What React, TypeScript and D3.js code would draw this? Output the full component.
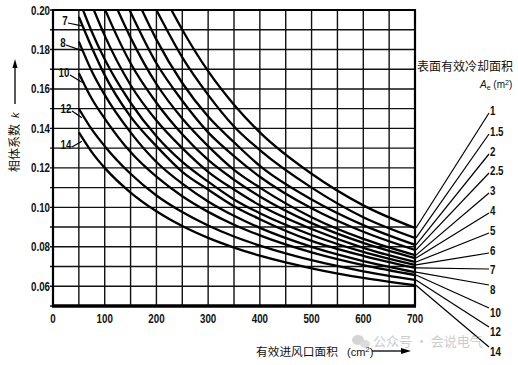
import React from "react";
import * as d3 from "d3";

// Ae (m²) values, one curve each
const aeLabels = ["1", "1.5", "2", "2.5", "3", "4", "5", "6", "7", "8", "10", "12", "14"];

// [inlet area cm², k]
const ae1 = [[229, 0.2], [250, 0.19], [300, 0.169], [350, 0.152], [400, 0.138], [500, 0.117], [600, 0.101], [700, 0.0895]];
const ae1_5 = [[200, 0.2], [250, 0.176], [300, 0.157], [350, 0.141], [400, 0.129], [500, 0.11], [600, 0.095], [700, 0.0845]];
const ae2 = [[172, 0.2], [200, 0.185], [250, 0.163], [300, 0.146], [350, 0.133], [400, 0.121], [500, 0.104], [600, 0.091], [700, 0.081]];
const ae2_5 = [[148, 0.2], [200, 0.173], [250, 0.154], [300, 0.138], [350, 0.126], [400, 0.1155], [500, 0.0995], [600, 0.0876], [700, 0.0784]];
const ae3 = [[125, 0.2], [150, 0.186], [200, 0.1625], [250, 0.145], [300, 0.131], [350, 0.119], [400, 0.11], [500, 0.095], [600, 0.084], [700, 0.0758]];
const ae4 = [[101, 0.2], [125, 0.186], [150, 0.173], [200, 0.153], [250, 0.137], [300, 0.124], [350, 0.114], [400, 0.1055], [500, 0.092], [600, 0.082], [700, 0.0743]];
const ae5 = [[79, 0.2], [100, 0.187], [150, 0.162], [200, 0.144], [250, 0.13], [300, 0.118], [350, 0.109], [400, 0.101], [500, 0.089], [600, 0.0795], [700, 0.0723]];
const ae6 = [[58, 0.2], [75, 0.189], [100, 0.175], [150, 0.153], [200, 0.136], [250, 0.123], [300, 0.113], [350, 0.104], [400, 0.097], [500, 0.086], [600, 0.0774], [700, 0.0708]];
const ae7 = [[50, 0.1965], [75, 0.181], [100, 0.167], [150, 0.146], [200, 0.131], [250, 0.118], [300, 0.109], [350, 0.1006], [400, 0.094], [500, 0.083], [600, 0.0754], [700, 0.0693]];
const ae8 = [[50, 0.184], [75, 0.169], [100, 0.157], [150, 0.138], [200, 0.123], [250, 0.112], [300, 0.103], [350, 0.0957], [400, 0.0896], [500, 0.08], [600, 0.0728], [700, 0.0672]];
const ae10 = [[50, 0.168], [75, 0.155], [100, 0.145], [150, 0.128], [200, 0.1155], [250, 0.1056], [300, 0.0977], [350, 0.0912], [400, 0.0858], [500, 0.0772], [600, 0.0707], [700, 0.0657]];
const ae12 = [[50, 0.15], [75, 0.1395], [100, 0.131], [150, 0.117], [200, 0.106], [250, 0.0976], [300, 0.0908], [350, 0.0852], [400, 0.0806], [500, 0.0732], [600, 0.0676], [700, 0.0632]];
const ae14 = [[50, 0.138], [75, 0.128], [100, 0.12], [150, 0.1075], [200, 0.098], [250, 0.0905], [300, 0.0845], [350, 0.0796], [400, 0.0755], [500, 0.0691], [600, 0.0642], [700, 0.0605]];

const series = [ae1, ae1_5, ae2, ae2_5, ae3, ae4, ae5, ae6, ae7, ae8, ae10, ae12, ae14];

const xTickLabels = [0, 100, 200, 300, 400, 500, 600, 700];
const yTickLabels = [0.06, 0.08, 0.1, 0.12, 0.14, 0.16, 0.18, 0.2];
const leftLabelled = ["7", "8", "10", "12", "14"];

// layout only: where the fan labels sit on the right, and the left labels
const fanLabelY = [110, 131, 151, 170, 190, 210, 230, 250, 269, 289, 312, 331, 351];
const leftLabelPos = [[65, 20], [63, 42], [64, 72], [66, 108], [66, 144]];

const W = 518;
const H = 365;
const x = d3.scaleLinear().domain([0, 700]).range([53, 415]);
const y = d3.scaleLinear().domain([0.05, 0.2]).range([306, 10]);

const line = d3
  .line<number[]>()
  .x((d) => x(d[0]))
  .y((d) => y(d[1]))
  .curve(d3.curveMonotoneX);

const numFont = "'Liberation Sans', Arial, sans-serif";
const cjkFont = "'Noto Sans CJK SC', sans-serif";

// condensed look: squeeze Liberation Sans horizontally
const Narrow: React.FC<{ x: number; y: number; anchor?: string; size?: number; children: React.ReactNode }> = ({
  x: tx,
  y: ty,
  anchor = "start",
  size = 12,
  children,
}) => (
  <text
    transform={`translate(${tx},${ty}) scale(0.78,1)`}
    dy="0.36em"
    textAnchor={anchor}
    fontFamily={numFont}
    fontWeight="bold"
    fontSize={size}
    fill="#111"
  >
    {children}
  </text>
);

const App: React.FC = () => {
  const vGrid = d3.range(0, 701, 50);
  const hGrid = y.ticks(15);

  return (
    <svg width={W} height={H} style={{ position: "absolute", left: 0, top: 0, background: "#fff" }}>
      <defs>
        <clipPath id="plot">
          <rect x={x(0)} y={y(0.2)} width={x(700) - x(0)} height={y(0.05) - y(0.2)} />
        </clipPath>
      </defs>

      {/* grid */}
      {vGrid.map((v) => (
        <line key={"v" + v} x1={x(v)} x2={x(v)} y1={y(0.2)} y2={y(0.05)} stroke="#111" strokeWidth={1.4} />
      ))}
      {hGrid.map((v) => (
        <line key={"h" + v} x1={x(0) - 3} x2={x(700)} y1={y(v)} y2={y(v)} stroke="#111" strokeWidth={1.4} />
      ))}

      {/* frame */}
      <line x1={x(0)} x2={x(0)} y1={y(0.2) - 1} y2={y(0.05)} stroke="#000" strokeWidth={2.2} />
      <line x1={x(700)} x2={x(700)} y1={y(0.2) - 1} y2={y(0.05)} stroke="#000" strokeWidth={2.2} />
      <line x1={x(0)} x2={x(700)} y1={y(0.2)} y2={y(0.2)} stroke="#000" strokeWidth={2} />
      <line x1={x(0) - 1} x2={x(700) + 1} y1={y(0.05)} y2={y(0.05)} stroke="#000" strokeWidth={3.5} />

      {/* curves */}
      <g clipPath="url(#plot)">
        {series.map((s, i) => (
          <path key={aeLabels[i]} d={line(s) || ""} fill="none" stroke="#000" strokeWidth={2.3} />
        ))}
      </g>

      {/* tick labels */}
      {xTickLabels.map((v) => (
        <Narrow key={"xt" + v} x={x(v)} y={y(0.05) + 12} anchor="middle" size={12.5}>
          {v}
        </Narrow>
      ))}
      {yTickLabels.map((v) => (
        <Narrow key={"yt" + v} x={x(0) - 3} y={y(v)} anchor="end" size={12.5}>
          {v.toFixed(2)}
        </Narrow>
      ))}

      {/* left curve labels */}
      {leftLabelled.map((lab, j) => {
        const s = series[aeLabels.indexOf(lab)];
        const [lx, ly] = leftLabelPos[j];
        return (
          <g key={"ll" + lab}>
            <Narrow x={lx} y={ly} anchor="middle" size={12.5}>
              {lab}
            </Narrow>
            <line x1={lx + (lab.length > 1 ? 6 : 3)} y1={ly + 3} x2={x(s[0][0]) + 3} y2={y(s[0][1]) + 9} stroke="#000" strokeWidth={1.2} />
          </g>
        );
      })}

      {/* right fan labels */}
      {series.map((s, i) => {
        const end = s[s.length - 1];
        const ly = fanLabelY[i];
        const ey = ly < 262 ? ly + 3 : ly > 276 ? ly - 4 : ly;
        return (
          <g key={"fan" + i}>
            <line x1={x(end[0]) + 1} y1={y(end[1])} x2={489} y2={ey} stroke="#000" strokeWidth={1.2} />
            <Narrow x={490} y={ly} size={12.5}>
              {aeLabels[i]}
            </Narrow>
          </g>
        );
      })}

      {/* right title */}
      <text x={417} y={67} dy="0.36em" fontFamily={cjkFont} fontSize={12} fill="#111">
        表面有效冷却面积
      </text>
      <text x={480} y={84} dy="0.36em" fontFamily={numFont} fontSize={10} fill="#111">
        <tspan fontStyle="italic">A</tspan>
        <tspan fontSize={7} dy="2">e</tspan>
        <tspan dy="-2"> (m</tspan>
        <tspan fontSize={7} dy="-3">2</tspan>
        <tspan dy="3">)</tspan>
      </text>

      {/* y axis title */}
      <text transform="translate(15,172) rotate(-90)" dy="0.36em" fontFamily={cjkFont} fontSize={12} fill="#111">
        相体系数
        <tspan dx="6" fontFamily={numFont} fontStyle="italic" fontSize={11}>
          k
        </tspan>
      </text>
      <line x1={15} x2={15} y1={104} y2={66} stroke="#000" strokeWidth={1.3} />
      <path d="M15,59 L12.5,68 L17.5,68 Z" fill="#000" />

      {/* x axis title */}
      <text x={256} y={352} dy="0.36em" fontFamily={cjkFont} fontSize={11.7} fill="#111">
        有效进风口面积
      </text>
      <text x={347} y={352} dy="0.36em" fontFamily={numFont} fontSize={11} fill="#111">
        (cm
        <tspan fontSize={8} dy="-4">2</tspan>
        <tspan dy="4">)</tspan>
      </text>
      <line x1={372} x2={402} y1={351} y2={351} stroke="#000" strokeWidth={1.3} />
      <path d="M411,351 L401,348 L401,354 Z" fill="#000" />

      {/* watermark */}
      <g opacity={0.5}>
        <ellipse cx={358} cy={340} rx={6} ry={5} fill="#aaa" />
        <ellipse cx={365} cy={344} rx={5} ry={4} fill="#bbb" />
        <text x={373} y={341} dy="0.36em" fontFamily={cjkFont} fontSize={13} fill="#999">
          公众号 · 会说电气
        </text>
      </g>
    </svg>
  );
};

export default App;
